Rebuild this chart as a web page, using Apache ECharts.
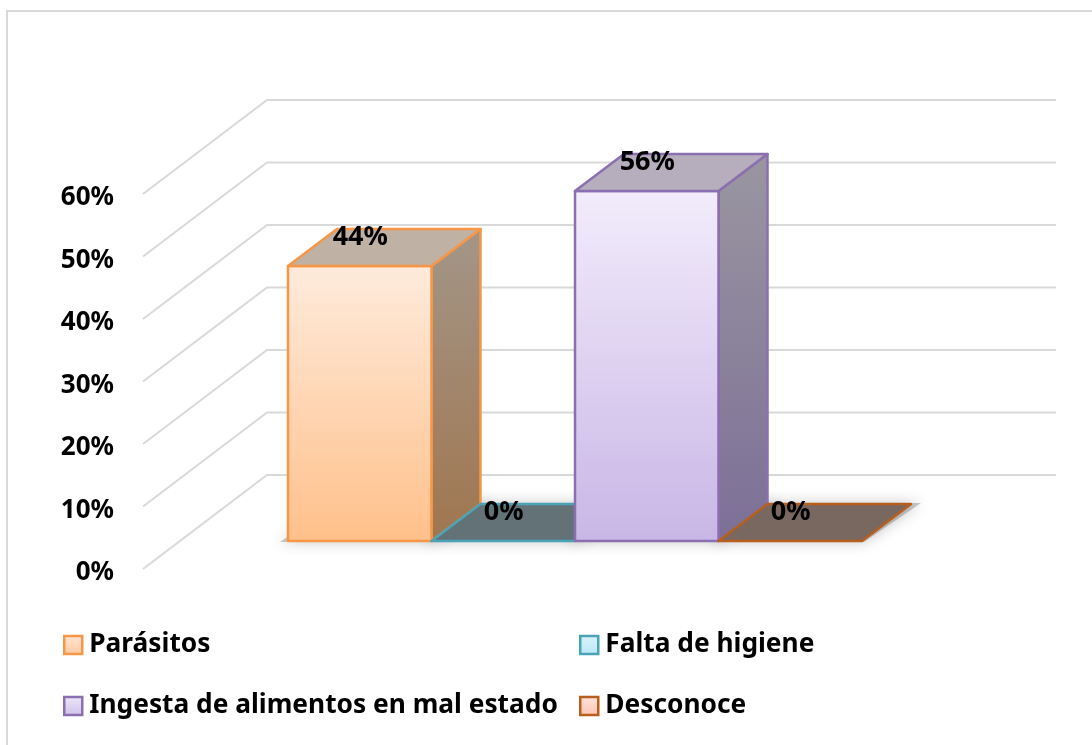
<!DOCTYPE html>
<html>
<head>
<meta charset="utf-8">
<title>Chart</title>
<style>
html,body{margin:0;padding:0;background:#fff;}
#main{width:1092px;height:745px;}
</style>
<script src="https://cdn.jsdelivr.net/npm/echarts@6/dist/echarts.min.js"></script>
</head>
<body>
<div id="main"></div>
<script>
var categories = ['Parásitos', 'Falta de higiene', 'Ingesta de alimentos en mal estado', 'Desconoce'];
var values = [44, 0, 56, 0];
var yTicks = [0, 10, 20, 30, 40, 50, 60];

var FONT = '"Noto Sans"';
// colores: frente arriba/abajo, borde, cara superior, lateral arriba/abajo, leyenda arriba/abajo
var palette = [
	{front: ['#FEEBDC', '#FFC08A'], line: '#F79646', top: '#BFB1A3', side: ['#A39688', '#A0764F'], lg: ['#FEE6D3', '#FFC9A0']},
	{front: ['#D6F1FA', '#B8E6F5'], line: '#4BA3B8', top: '#627277', side: ['#627277', '#627277'], lg: ['#DCF4FB', '#B9E7F5']},
	{front: ['#F2ECFB', '#C9B6E6'], line: '#8C6FB0', top: '#B6AEBC', side: ['#9A96A0', '#7C6F97'], lg: ['#EEE8F8', '#CFC0E8']},
	{front: ['#FFDED3', '#FFC0AE'], line: '#B85F1E', top: '#79685F', side: ['#79685F', '#79685F'], lg: ['#FFE3DA', '#FFC4B3']}
];
var legendPos = [[63, 632], [579, 632], [63, 693], [579, 693]];

function vgrad(c) {
	return new echarts.graphic.LinearGradient(0, 0, 0, 1, [{offset: 0, color: c[0]}, {offset: 1, color: c[1]}]);
}

// pared y suelo: cada marca sale del eje y sigue hacia el fondo
function renderWall(params, api) {
	var p = api.coord([0, api.value(0)]);
	return {
		type: 'polyline',
		shape: {points: [[params.coordSys.x, p[1]], [params.coordSys.x + 124, p[1] - 94], [1056, p[1] - 94]]},
		style: {fill: null, stroke: '#D9D9D9', lineWidth: 2}
	};
}

function renderBar(params, api) {
	var c = palette[params.seriesIndex - 1];
	var i = api.value(0), v = api.value(1);
	var base = api.coord([i, 0]), head = api.coord([i, v]);
	var w = api.size([1, 0])[0];
	var x0 = base[0] - w / 2, x1 = base[0] + w / 2;
	var dx = 49, dy = -37;
	var line = {stroke: c.line, lineWidth: 2.5, lineJoin: 'round'};
	function face(pts, fill) {
		return {type: 'polygon', shape: {points: pts}, style: Object.assign({fill: fill}, line)};
	}
	var children = [];
	// sombra de la base, por debajo de todas las barras
	children.push({
		type: 'polygon',
		z2: -1,
		shape: {points: [[x0 - 8, base[1] + 1], [x1 + 2, base[1] + 1], [x1 + dx + 10, base[1] + dy - 1], [x0 + dx, base[1] + dy - 1]]},
		style: {fill: 'rgba(80,80,80,0.3)', shadowBlur: 14, shadowColor: 'rgba(50,50,50,0.9)'}
	});
	if (v > 0) {
		children.push(face([[x1, head[1]], [x1 + dx, head[1] + dy], [x1 + dx, base[1] + dy], [x1, base[1]]], vgrad(c.side)));
		children.push(face([[x0, head[1]], [x1, head[1]], [x1, base[1]], [x0, base[1]]], vgrad(c.front)));
	}
	children.push(face([[x0, head[1]], [x1, head[1]], [x1 + dx, head[1] + dy], [x0 + dx, head[1] + dy]], c.top));
	children.push({
		type: 'text',
		z2: 10,
		style: {
			x: base[0] + 0.5, y: head[1] - 29,
			text: v + '%', fill: '#000',
			font: 'bold 27px ' + FONT,
			align: 'center', verticalAlign: 'middle'
		}
	});
	return {type: 'group', children: children};
}

var series = [{
	name: 'wall',
	type: 'custom',
	xAxisIndex: 0,
	yAxisIndex: 0,
	silent: true,
	renderItem: renderWall,
	data: yTicks.map(function (t) { return [t]; }),
	encode: {y: 0}
}];
categories.forEach(function (name, i) {
	series.push({
		name: name,
		type: 'custom',
		xAxisIndex: 1,
		yAxisIndex: 1,
		clip: false,
		renderItem: renderBar,
		itemStyle: {color: palette[i].line},
		data: [[i, values[i]]],
		encode: {x: 0, y: 1}
	});
});

var legends = categories.map(function (name, i) {
	return {
		left: legendPos[i][0],
		top: legendPos[i][1],
		padding: 0,
		itemWidth: 18,
		itemHeight: 18,
		selectedMode: false,
		icon: 'rect',
		textStyle: {fontFamily: FONT, fontWeight: 'bold', fontSize: 26.3, color: '#000', padding: [0, 0, 0, 2]},
		data: [{
			name: name,
			itemStyle: {color: vgrad(palette[i].lg), borderColor: palette[i].line, borderWidth: 2.5}
		}]
	};
});

var mychart = echarts.init(document.getElementById('main'), null, {renderer: 'canvas'});
mychart.setOption({
	animation: false,
	backgroundColor: '#fff',
	textStyle: {fontFamily: FONT},
	graphic: [{
		type: 'polyline',
		silent: true,
		shape: {points: [[7, 745], [7, 11], [1092, 11]]},
		style: {fill: null, stroke: '#D9D9D9', lineWidth: 2}
	}],
	legend: legends,
	grid: [
		{left: 143, top: 194, width: 789, height: 375},
		{left: 288, top: 166, width: 574, height: 375}
	],
	xAxis: [
		{gridIndex: 0, type: 'category', data: ['a'], show: false},
		{gridIndex: 1, type: 'category', data: categories, show: false}
	],
	yAxis: [{
		gridIndex: 0,
		type: 'value',
		min: 0,
		max: 60,
		interval: 10,
		axisLine: {show: false},
		axisTick: {show: false},
		splitLine: {show: false},
		axisLabel: {
			margin: 29,
			fontFamily: FONT,
			fontWeight: 'bold',
			fontSize: 26,
			color: '#000',
			verticalAlign: 'top',
			lineHeight: 8,
			formatter: '{value}%'
		}
	}, {
		gridIndex: 1,
		type: 'value',
		min: 0,
		max: 60,
		interval: 10,
		show: false
	}],
	series: series
});
</script>
</body>
</html>
